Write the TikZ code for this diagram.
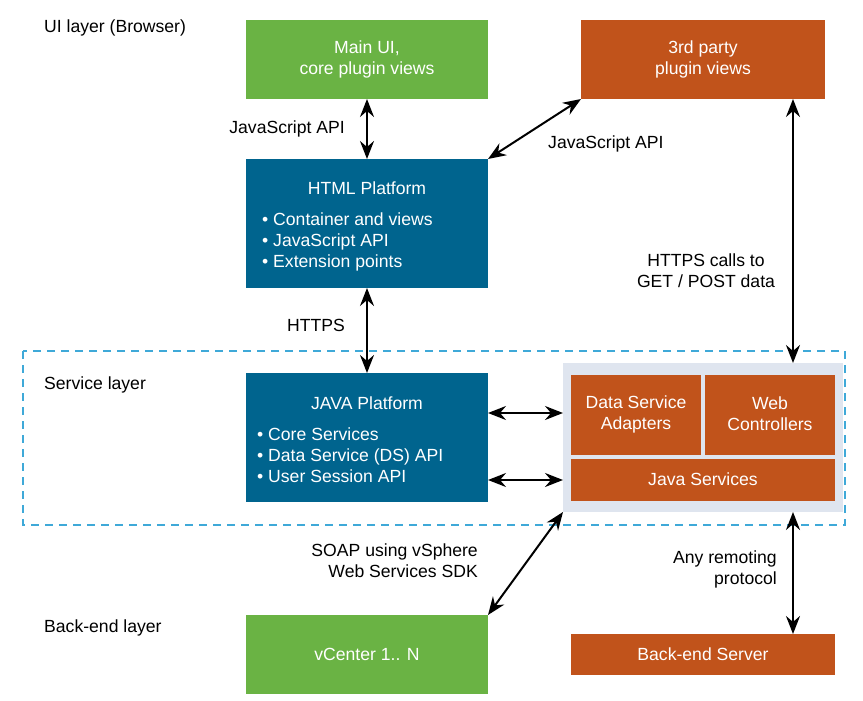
\documentclass[tikz,border=0pt]{standalone}
\usepackage{fontspec}
\setmainfont{Liberation Sans}
\usetikzlibrary{arrows.meta}
\definecolor{vgreen}{HTML}{6AB344}
\definecolor{vorange}{HTML}{C1531B}
\definecolor{vblue}{HTML}{00648E}
\definecolor{vdash}{HTML}{3FA9D8}
\definecolor{vgray}{HTML}{DFE5EF}
\tikzset{
  box/.style={inner sep=0pt, text=white, align=center, font=\fontsize{17.6}{21}\selectfont},
  lbl/.style={inner sep=0pt, font=\fontsize{17.6}{21}\selectfont},
  dbl/.style={line width=2pt, {Stealth[length=18pt,width=14pt,inset=6pt]}-{Stealth[length=18pt,width=14pt,inset=6pt]}},
}
\begin{document}
\begin{tikzpicture}[x=1pt,y=-1pt]
\useasboundingbox (0,0) rectangle (863,701);
% service layer
\draw[vdash, line width=2pt, dash pattern=on 8pt off 6pt] (23,351) rectangle (845,525);
\fill[vgray] (563,363) rectangle (843,512);
\coordinate (contNW) at (563,363);
\coordinate (contSW) at (563,512);
\coordinate (contTop) at (793,363);
\coordinate (contBot) at (793,512);
\coordinate (contL1) at (563,413);
\coordinate (contL2) at (563,480);
% boxes
\fill[vgreen] (246,20) rectangle (488,99);
\node[box] (mainui) at (367,59.5) {Main UI,\\core plugin views};
\fill[vorange] (581,20) rectangle (825,99);
\node[box] (third) at (703,59.5) {3rd party\\plugin views};
\fill[vblue] (246,159) rectangle (488,288);
\node[box, anchor=base] (htmltitle) at (367,194) {HTML Platform};
\node[box, anchor=base west, align=left] (htmlitems) at (262,267) {• Container and views\\• JavaScript API\\• Extension points};
\fill[vblue] (246,373) rectangle (488,502);
\node[box, anchor=base] (javatitle) at (367,409) {JAVA Platform};
\node[box, anchor=base west, align=left] (javaitems) at (257,482) {• Core Services\\• Data Service (DS) API\\• User Session API};
\fill[vorange] (571,375) rectangle (701,455);
\node[box] (dsa) at (636,414) {Data Service\\Adapters};
\fill[vorange] (705,375) rectangle (835,455);
\node[box] (webc) at (770,414) {Web\\Controllers};
\fill[vorange] (571,459) rectangle (835,501);
\node[box] (javasvc) at (703,479) {Java Services};
\fill[vgreen] (246,615) rectangle (488,694);
\node[box] (vcenter) at (367,654.5) {vCenter 1.. N};
\fill[vorange] (571,634) rectangle (835,675);
\node[box] (backend) at (703,654.5) {Back-end Server};
% anchor coordinates
\coordinate (mainuiS) at (367,99);
\coordinate (htmlN) at (367,159);
\coordinate (htmlS) at (367,288);
\coordinate (htmlNE) at (488,159);
\coordinate (thirdSW) at (581,99);
\coordinate (thirdS) at (793,99);
\coordinate (javaN) at (367,373);
\coordinate (javaR1) at (488,413);
\coordinate (javaR2) at (488,480);
\coordinate (vcenterNE) at (488,615);
\coordinate (backendN) at (793,634);
% arrows
\draw[dbl] (mainuiS) -- (htmlN);
\draw[dbl] (htmlNE) -- (thirdSW);
\draw[dbl] (thirdS) -- (contTop);
\draw[dbl] (htmlS) -- (javaN);
\draw[dbl] (javaR1) -- (contL1);
\draw[dbl] (javaR2) -- (contL2);
\draw[dbl] (contSW) -- (vcenterNE);
\draw[dbl] (contBot) -- (backendN);
% labels
\node[lbl, anchor=base west] (uilayer) at (44,33) {UI layer (Browser)};
\node[lbl, anchor=base east] (jsapi1) at (345,134) {JavaScript API};
\node[lbl, anchor=base west] (jsapi2) at (548,149) {JavaScript API};
\node[lbl, anchor=base, align=center] (httpscalls) at (706,287) {HTTPS calls to\\GET / POST data};
\node[lbl, anchor=base west] (https) at (287,331) {HTTPS};
\node[lbl, anchor=base west] (svclayer) at (44,389) {Service layer};
\node[lbl, anchor=base east, align=right] (soap) at (478,577) {SOAP using vSphere\\Web Services SDK};
\node[lbl, anchor=base east, align=right] (remoting) at (777,584) {Any remoting\\protocol};
\node[lbl, anchor=base west] (belayer) at (44,632) {Back-end layer};
\end{tikzpicture}
\end{document}
